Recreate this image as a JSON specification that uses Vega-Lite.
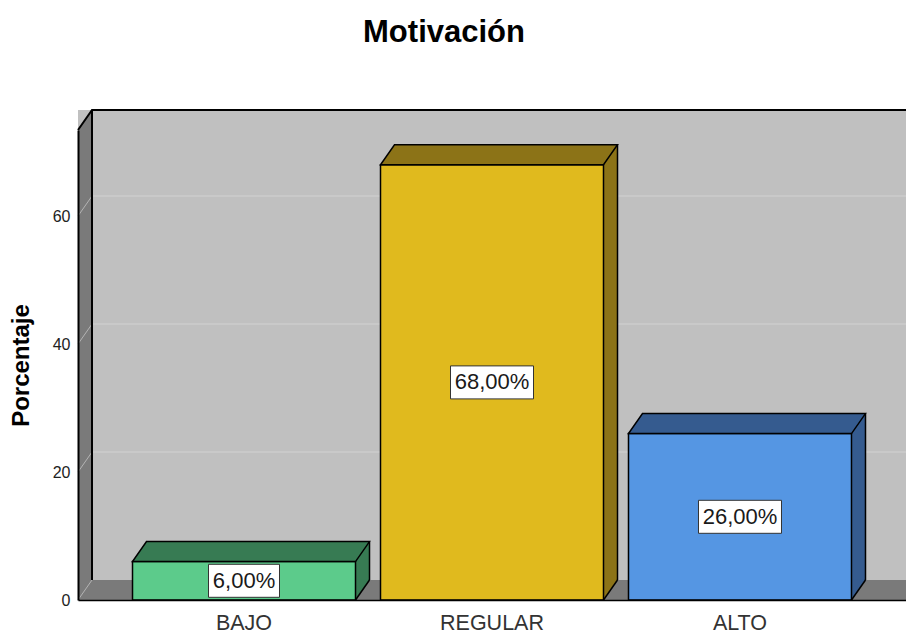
{
  "$schema": "https://vega.github.io/schema/vega-lite/v6.json",
  "width": 828,
  "height": 470,
  "autosize": {"type": "none"},
  "padding": {"left": 78, "top": 130, "right": 0, "bottom": 34},
  "background": "white",
  "config": {
    "font": "Liberation Sans",
    "view": {"fill": "#7a7a7a", "stroke": null},
    "legend": {"disable": true},
    "locale": {"number": {"decimal": ",", "thousands": ".", "grouping": [3], "currency": ["", "%"]}}
  },
  "title": {
    "text": "Motivación",
    "fontSize": 31,
    "fontWeight": "bold",
    "color": "#000000",
    "anchor": "middle",
    "frame": "group",
    "dx": -48,
    "offset": 33,
    "baseline": "alphabetic"
  },
  "datasets": {
    "motivacion": [
      {"categoria": "BAJO", "porcentaje": 6},
      {"categoria": "REGULAR", "porcentaje": 68},
      {"categoria": "ALTO", "porcentaje": 26}
    ],
    "rejilla": [{"v": 0}, {"v": 20}, {"v": 40}, {"v": 60}],
    "marco": [{"v": 0}]
  },
  "data": {"name": "motivacion"},
  "layer": [
    {
      "data": {"name": "marco"},
      "mark": {"type": "rect", "fill": "#c0c0c0", "yOffset": -20, "y2Offset": -20},
      "encoding": {
        "y": {"datum": 0, "type": "quantitative"},
        "y2": {"datum": 73.4375}
      }
    },
    {
      "data": {"name": "rejilla"},
      "transform": [{"filter": "datum.v > 0"}],
      "mark": {"type": "rule", "stroke": "#d2d2d2", "strokeWidth": 1, "yOffset": -20},
      "encoding": {
        "y": {"field": "v", "type": "quantitative"}
      }
    },
    {
      "data": {"name": "marco"},
      "mark": {"type": "point", "shape": "M-1.66,0 L-1.66,-4.7 L-1.52,-4.9 L-1.52,-0.2 Z", "size": 40000, "filled": true, "fill": "#7a7a7a", "stroke": null, "opacity": 1},
      "encoding": {
        "x": {"datum": "BAJO", "type": "nominal"},
        "y": {"field": "v", "type": "quantitative"}
      }
    },
    {
      "data": {"name": "rejilla"},
      "mark": {"type": "point", "shape": "M-1.66,0 L-1.52,-0.2", "size": 40000, "filled": false, "stroke": "#b4b4b4", "strokeWidth": 1, "opacity": 1},
      "encoding": {
        "x": {"datum": "BAJO", "type": "nominal"},
        "y": {"field": "v", "type": "quantitative"}
      }
    },
    {
      "data": {"name": "marco"},
      "mark": {"type": "point", "shape": "M-1.66,-4.7 L-1.52,-4.9 L6.8,-4.9 M-1.52,-4.9 L-1.52,-0.2", "size": 40000, "filled": false, "stroke": "#000000", "strokeWidth": 2, "opacity": 1},
      "encoding": {
        "x": {"datum": "BAJO", "type": "nominal"},
        "y": {"field": "v", "type": "quantitative"}
      }
    },
    {
      "mark": {"type": "bar", "width": 14, "xOffset": 118.5, "yOffset": -20, "y2Offset": -20, "stroke": null},
      "encoding": {
        "x": {"field": "categoria", "type": "nominal", "sort": null},
        "y": {"field": "porcentaje", "type": "quantitative"},
        "y2": {"datum": 0},
        "color": {"field": "categoria", "type": "nominal", "scale": {"domain": ["BAJO", "REGULAR", "ALTO"], "range": ["#377b53", "#8c7317", "#355b8f"]}}
      }
    },
    {
      "mark": {"type": "point", "shape": "M1.115,-0.207 L1.255,-0.207 L1.255,-0.2 L1.115,0 Z", "size": 40000, "filled": true, "stroke": null, "opacity": 1},
      "encoding": {
        "x": {"field": "categoria", "type": "nominal", "sort": null},
        "y": {"datum": 0, "type": "quantitative"},
        "color": {"field": "categoria", "type": "nominal"}
      }
    },
    {
      "mark": {"type": "rule", "stroke": "#000000", "strokeWidth": 1.5, "xOffset": 125.5, "yOffset": -20, "y2Offset": -20},
      "encoding": {
        "x": {"field": "categoria", "type": "nominal", "sort": null},
        "y": {"field": "porcentaje", "type": "quantitative"},
        "y2": {"datum": 0}
      }
    },
    {
      "mark": {"type": "point", "shape": "M1.255,-0.2 L1.115,0", "size": 40000, "filled": false, "stroke": "#000000", "strokeWidth": 1.5, "opacity": 1},
      "encoding": {
        "x": {"field": "categoria", "type": "nominal", "sort": null},
        "y": {"datum": 0, "type": "quantitative"}
      }
    },
    {
      "mark": {"type": "bar", "stroke": "#000000", "strokeWidth": 1.5},
      "encoding": {
        "x": {
          "field": "categoria",
          "type": "nominal",
          "sort": null,
          "scale": {"domain": ["BAJO", "REGULAR", "ALTO"], "paddingInner": 0.1008, "paddingOuter": 0.2198},
          "axis": {
            "title": null,
            "labelAngle": 0,
            "labelAlign": "center",
            "labelFont": "Liberation Sans",
            "labelFontSize": 21.5,
            "labelColor": "#333333",
            "labelBaseline": "alphabetic",
            "labelPadding": 29,
            "ticks": false,
            "grid": false,
            "domainColor": "#000000",
            "domainWidth": 1.5,
            "zindex": 1
          }
        },
        "y": {
          "field": "porcentaje",
          "type": "quantitative",
          "scale": {"domain": [0, 73.4375], "nice": false},
          "axis": {
            "title": "Porcentaje",
            "titleFont": "Liberation Sans",
            "titleFontSize": 24,
            "titleFontWeight": "bold",
            "titleColor": "#000000",
            "titleAngle": -90,
            "titleAlign": "center",
            "titleBaseline": "middle",
            "titleX": -57,
            "titleY": 235,
            "values": [0, 20, 40, 60],
            "labelFont": "Liberation Sans",
            "labelFontSize": 16,
            "labelColor": "#222222",
            "labelPadding": 8,
            "ticks": false,
            "grid": false,
            "domainColor": "#000000",
            "domainWidth": 2,
            "zindex": 1
          }
        },
        "fill": {"field": "categoria", "type": "nominal", "scale": {"domain": ["BAJO", "REGULAR", "ALTO"], "range": ["#5ccb8b", "#e0ba1e", "#5596e3"]}}
      }
    },
    {
      "mark": {"type": "point", "shape": "M-1.115,0 L1.115,0 L1.255,-0.2 L-0.975,-0.2 Z", "size": 40000, "filled": true, "stroke": "#000000", "strokeWidth": 1.5, "opacity": 1},
      "encoding": {
        "x": {"field": "categoria", "type": "nominal", "sort": null},
        "y": {"field": "porcentaje", "type": "quantitative"},
        "color": {"field": "categoria", "type": "nominal"}
      }
    },
    {
      "mark": {"type": "point", "size": 40000, "filled": true, "fill": "#ffffff", "stroke": "#333333", "strokeWidth": 1, "opacity": 1},
      "encoding": {
        "x": {"field": "categoria", "type": "nominal", "sort": null},
        "y": {"field": "porcentaje", "type": "quantitative", "stack": "zero", "bandPosition": 0.5},
        "shape": {
          "field": "categoria",
          "type": "nominal",
          "scale": {
            "domain": ["BAJO", "REGULAR", "ALTO"],
            "range": [
              "M-0.355,-0.165 L0.355,-0.165 L0.355,0.165 L-0.355,0.165 Z",
              "M-0.415,-0.165 L0.415,-0.165 L0.415,0.165 L-0.415,0.165 Z",
              "M-0.415,-0.165 L0.415,-0.165 L0.415,0.165 L-0.415,0.165 Z"
            ]
          }
        }
      }
    },
    {
      "mark": {"type": "text", "font": "Liberation Sans", "fontSize": 22, "color": "#1a1a1a", "align": "center", "baseline": "middle"},
      "encoding": {
        "x": {"field": "categoria", "type": "nominal", "sort": null},
        "y": {"field": "porcentaje", "type": "quantitative", "stack": "zero", "bandPosition": 0.5},
        "text": {"field": "porcentaje", "type": "quantitative", "format": "$.2f"}
      }
    }
  ]
}
